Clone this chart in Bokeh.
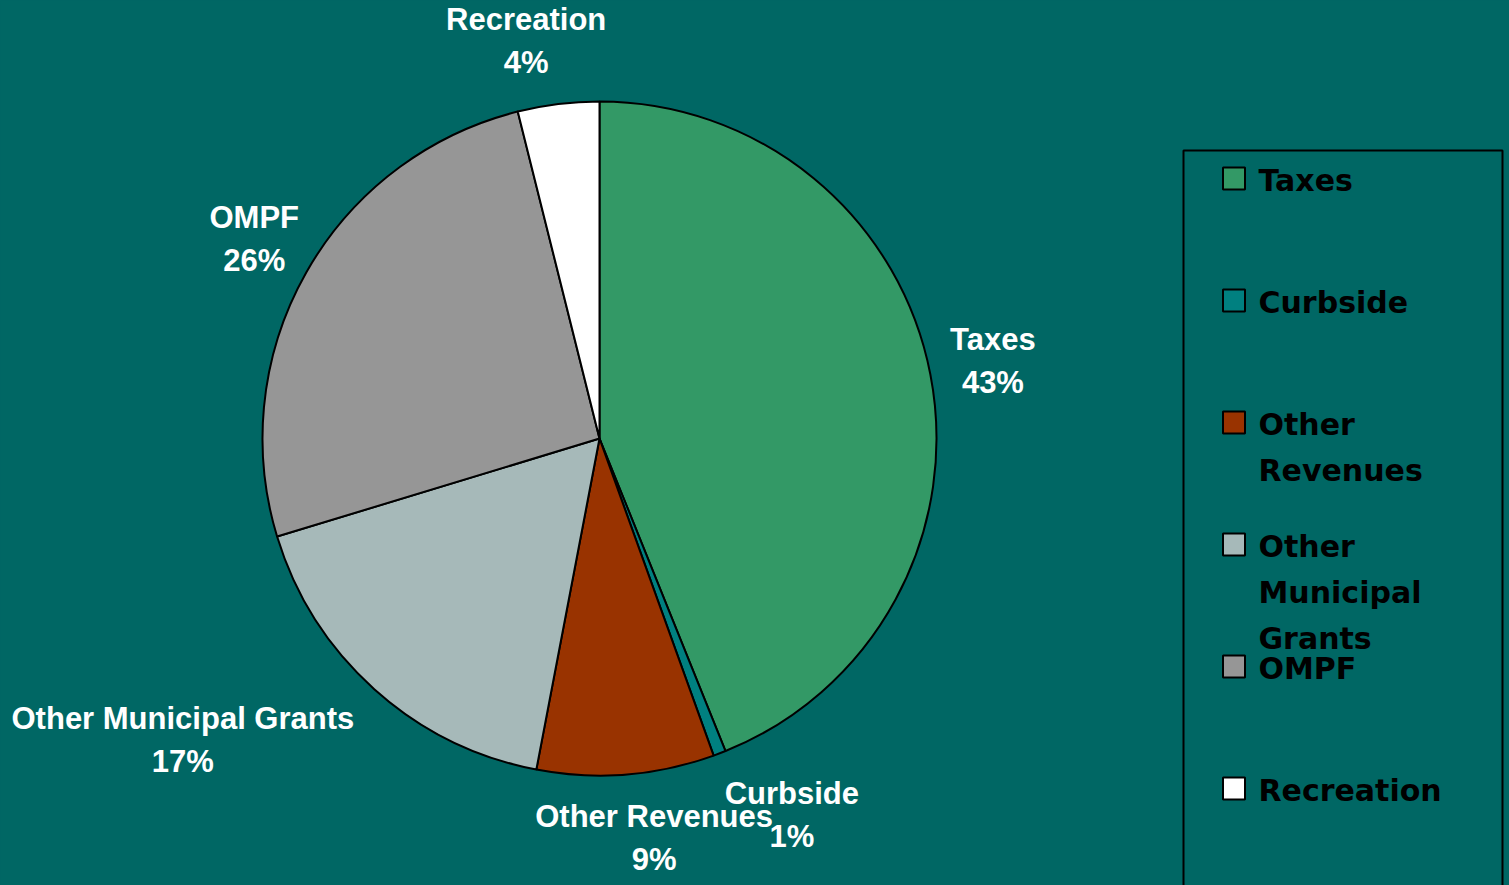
import math
from bokeh.plotting import figure
from bokeh.models import Range1d, ColumnDataSource
from bokeh.embed import file_html
from bokeh.resources import INLINE
from bokeh.core.properties import value

# ---- data ----
categories = ["Taxes", "Curbside", "Other Revenues", "Other Municipal Grants", "OMPF", "Recreation"]
shares = [43.9, 0.6, 8.5, 17.3, 25.8, 3.9]
pct_labels = ["43%", "1%", "9%", "17%", "26%", "4%"]
legend_lines = [["Taxes"], ["Curbside"], ["Other", "Revenues"],
                ["Other", "Municipal", "Grants"], ["OMPF"], ["Recreation"]]
colors = ["#339966", "#008080", "#993300", "#A6B9B9", "#969696", "#FFFFFF"]

BG = "#006764"
W, H = 1509, 885
# coordinate system: x = page pixel, y = 885 - page pixel (1 unit = 1 px)
def Y(py):
    return H - py

CX, CY, R = 599, Y(438), 337

p = figure(width=W, height=H, output_backend="svg", toolbar_location=None,
           x_range=Range1d(0, W), y_range=Range1d(0, H),
           x_axis_type=None, y_axis_type=None, min_border=0)
p.background_fill_color = BG
p.border_fill_color = BG
p.outline_line_color = None

total = sum(shares)
starts, ends, mids = [], [], []
cum = 0.0
for s in shares:
    starts.append(math.pi / 2 - 2 * math.pi * cum / total)
    mids.append(2 * math.pi * (cum + s / 2) / total)
    cum += s
    ends.append(math.pi / 2 - 2 * math.pi * cum / total)

src = ColumnDataSource(dict(cat=categories, start=starts, end=ends, color=colors))
p.wedge(x=CX, y=CY, radius=R, start_angle="start", end_angle="end", direction="clock",
        fill_color="color", line_color="black", line_width=2, source=src)

# ---- data labels, placed outside along mid-angle ----
RL = 360
FS = 31
lx, ly, ltxt = [], [], []
for cat, pct, th in zip(categories, pct_labels, mids):
    s, c = math.sin(th), math.cos(th)
    ax = CX + RL * s
    ay = CY + RL * c
    w = 16 * max(len(cat), len(pct))
    h = 70
    fx = max(-1, min(1, 3 * s))
    fy = max(-1.15, min(1.15, 1.3 * c))
    cx = ax + fx * w / 2
    cy = ay + fy * h / 2
    lx += [cx, cx]
    ly += [cy + 21.5, cy - 21.5]
    ltxt += [cat, pct]

p.text(x=lx, y=ly, text=ltxt, text_align="center", text_baseline="middle",
       text_color="white", text_font=value("Liberation Sans"), text_font_style="bold",
       text_font_size=f"{FS}px")

# ---- legend ----
p.quad(left=1183, right=1502, top=Y(150), bottom=-20, fill_color=None,
       line_color="black", line_width=2)
item_y = [Y(178 + 122 * i) for i in range(len(categories))]
p.rect(x=[1233.5] * len(categories), y=item_y, width=22, height=22,
       fill_color=colors, line_color="black", line_width=2)
tx, ty, tt = [], [], []
for iy, lines in zip(item_y, legend_lines):
    for j, ln in enumerate(lines):
        tx.append(1258)
        ty.append(iy - 2 - 46 * j)
        tt.append(ln)
p.text(x=tx, y=ty, text=tt, text_align="left", text_baseline="middle",
       text_color="black", text_font=value("DejaVu Sans"), text_font_style="bold",
       text_font_size="30px")

html = file_html(p, INLINE)
html = html.replace("<head>",
                    "<head><style>html,body{margin:0;padding:0;background:%s;overflow:hidden;}</style>" % BG, 1)
open("out.html", "w").write(html)
